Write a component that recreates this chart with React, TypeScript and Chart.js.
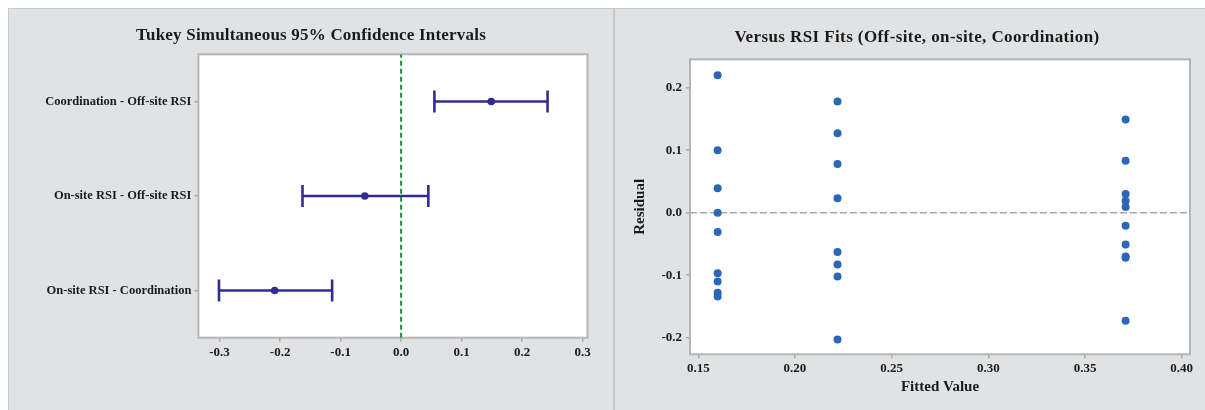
import React, { useEffect, useRef } from "react";
import { Chart, registerables } from "chart.js";

Chart.register(...registerables);

const FONT_FAMILY = '"Liberation Serif", "Times New Roman", serif';
const TEXT_COLOR = "#1a1a1a";
const FRAME_COLOR = "#b5b5b5";
const TICK_COLOR = "#a9a9a9";

// ---- Left panel: Tukey simultaneous 95% confidence intervals ----
const leftTitle = "Tukey Simultaneous 95% Confidence Intervals";
const comparisons = [
  "Coordination - Off-site RSI",
  "On-site RSI - Off-site RSI",
  "On-site RSI - Coordination",
];
const diffCenter = [0.149, -0.06, -0.209];
const diffLower = [0.055, -0.163, -0.301];
const diffUpper = [0.242, 0.045, -0.114];
const diffTicks = [-0.3, -0.2, -0.1, 0.0, 0.1, 0.2, 0.3];
const diffMin = -0.335;
const diffMax = 0.308;

// ---- Right panel: residuals versus fits ----
const rightTitle = "Versus RSI Fits (Off-site, on-site, Coordination)";
const fitOnSite = 0.16;
const fitOffSite = 0.222;
const fitCoordination = 0.371;
const residOnSite = [0.22, 0.1, 0.039, 0.0, -0.031, -0.097, -0.11, -0.128, -0.134];
const residOffSite = [0.178, 0.127, 0.078, 0.023, -0.063, -0.083, -0.102, -0.203];
const residCoordination = [0.149, 0.083, 0.03, 0.019, 0.009, -0.021, -0.051, -0.07, -0.072, -0.173];
const fitTicks = [0.15, 0.2, 0.25, 0.3, 0.35, 0.4];
const residTicks = [-0.2, -0.1, 0.0, 0.1, 0.2];
const fitMin = 0.1457;
const fitMax = 0.4043;
const residMin = -0.2266;
const residMax = 0.2454;

const framePlugin = {
  id: "frame",
  beforeDraw(chart: any) {
    const { ctx, chartArea: a } = chart;
    ctx.save();
    ctx.fillStyle = "#ffffff";
    ctx.fillRect(a.left, a.top, a.right - a.left, a.bottom - a.top);
    ctx.restore();
  },
  beforeDatasetsDraw(chart: any) {
    const { ctx, chartArea: a } = chart;
    ctx.save();
    ctx.strokeStyle = FRAME_COLOR;
    ctx.lineWidth = 2;
    ctx.strokeRect(a.left, a.top, a.right - a.left, a.bottom - a.top);
    ctx.restore();
  },
  afterDraw(chart: any, _args: any, opts: any) {
    const { ctx } = chart;
    ctx.save();
    ctx.fillStyle = TEXT_COLOR;
    ctx.font = `bold ${opts.size}px ${FONT_FAMILY}`;
    try {
      (ctx as any).letterSpacing = `${opts.spacing}px`;
    } catch (e) {}
    ctx.textAlign = "center";
    ctx.textBaseline = "middle";
    ctx.fillText(opts.text, opts.x, opts.y);
    ctx.restore();
  },
};

const tickFont = { family: FONT_FAMILY, size: 13, weight: "bold" as const };
const categoryFont = { family: FONT_FAMILY, size: 12.5, weight: "bold" as const };
const gridOpts = {
  display: true,
  drawOnChartArea: false,
  drawTicks: true,
  tickLength: 4,
  color: TICK_COLOR,
  lineWidth: 1.5,
};

function buildLeft(canvas: HTMLCanvasElement) {
  const navy = "#312d8c";
  const n = comparisons.length;
  const intervalSets = comparisons.map((_, i) => ({
    type: "line" as const,
    data: [
      { x: diffLower[i], y: n - i },
      { x: diffUpper[i], y: n - i },
    ],
    borderColor: navy,
    borderWidth: 2.6,
    pointStyle: "line" as const,
    rotation: 90,
    pointRadius: 11,
    pointBorderWidth: 2.6,
    pointBorderColor: navy,
    pointBackgroundColor: navy,
    showLine: true,
    clip: false as any,
  }));
  return new Chart(canvas, {
    type: "scatter",
    data: {
      datasets: [
        {
          type: "line",
          data: [
            { x: 0, y: 0.5 },
            { x: 0, y: n + 0.5 },
          ],
          borderColor: "#1f8a34",
          borderWidth: 2,
          borderDash: [5, 3],
          pointRadius: 0,
          showLine: true,
        },
        {
          type: "scatter",
          data: diffCenter.map((v, i) => ({ x: v, y: n - i })),
          backgroundColor: navy,
          borderColor: navy,
          pointRadius: 3.8,
          borderWidth: 0,
        },
        ...intervalSets,
      ] as any,
    },
    options: {
      animation: false,
      responsive: false,
      events: [],
      layout: { padding: { left: 0, top: 46.3, right: 25.5, bottom: 32.3 } },
      plugins: {
        legend: { display: false },
        tooltip: { enabled: false },
        frame: { text: leftTitle, x: 303, y: 28, size: 17, spacing: 0.2 },
      } as any,
      scales: {
        x: {
          type: "linear",
          min: diffMin,
          max: diffMax,
          afterBuildTicks: (s: any) => {
            s.ticks = diffTicks.map((v) => ({ value: v }));
          },
          afterFit: (s: any) => {
            s.height = 40;
          },
          ticks: {
            autoSkip: false,
            maxRotation: 0,
            padding: 3,
            color: TEXT_COLOR,
            font: tickFont,
            callback: (v: any) => Number(v).toFixed(1),
          },
          grid: gridOpts,
          border: { display: false },
        },
        y: {
          type: "linear",
          min: 0.5,
          max: n + 0.5,
          afterBuildTicks: (s: any) => {
            s.ticks = comparisons.map((_, i) => ({ value: n - i })).reverse();
          },
          afterFit: (s: any) => {
            s.width = 190.4;
          },
          ticks: {
            autoSkip: false,
            padding: 3,
            color: TEXT_COLOR,
            font: categoryFont,
            callback: (v: any) => comparisons[n - Number(v)],
          },
          grid: gridOpts,
          border: { display: false },
        },
      },
    } as any,
    plugins: [framePlugin],
  });
}

function buildRight(canvas: HTMLCanvasElement) {
  const blue = "#2a67b9";
  const groups = [
    { fit: fitOnSite, res: residOnSite },
    { fit: fitOffSite, res: residOffSite },
    { fit: fitCoordination, res: residCoordination },
  ];
  const points = groups.flatMap((g) => g.res.map((r) => ({ x: g.fit, y: r })));
  return new Chart(canvas, {
    type: "scatter",
    data: {
      datasets: [
        {
          type: "scatter",
          data: points,
          backgroundColor: blue,
          borderColor: blue,
          pointRadius: 4,
          borderWidth: 0,
        },
        {
          type: "line",
          data: [
            { x: fitMin, y: 0 },
            { x: fitMax, y: 0 },
          ],
          borderColor: "#a8a8a8",
          borderWidth: 1.5,
          borderDash: [7, 3],
          pointRadius: 0,
          showLine: true,
        },
      ] as any,
    },
    options: {
      animation: false,
      responsive: false,
      events: [],
      layout: { padding: { left: 0, top: 51.3, right: 15, bottom: 10.7 } },
      plugins: {
        legend: { display: false },
        tooltip: { enabled: false },
        frame: { text: rightTitle, x: 302, y: 29.7, size: 17, spacing: 0.4 },
      } as any,
      scales: {
        x: {
          type: "linear",
          min: fitMin,
          max: fitMax,
          afterBuildTicks: (s: any) => {
            s.ticks = fitTicks.map((v) => ({ value: v }));
          },
          afterFit: (s: any) => {
            s.height = 45;
          },
          ticks: {
            autoSkip: false,
            maxRotation: 0,
            padding: 3,
            color: TEXT_COLOR,
            font: tickFont,
            callback: (v: any) => Number(v).toFixed(2),
          },
          title: {
            display: true,
            text: "Fitted Value",
            color: TEXT_COLOR,
            font: { family: FONT_FAMILY, size: 15, weight: "bold" },
            padding: { top: 0, bottom: 3 },
          },
          grid: gridOpts,
          border: { display: false },
        },
        y: {
          type: "linear",
          min: residMin,
          max: residMax,
          afterBuildTicks: (s: any) => {
            s.ticks = residTicks.map((v) => ({ value: v }));
          },
          afterFit: (s: any) => {
            s.width = 75;
          },
          ticks: {
            autoSkip: false,
            padding: 4,
            color: TEXT_COLOR,
            font: tickFont,
            callback: (v: any) => Number(v).toFixed(1),
          },
          title: {
            display: true,
            text: "Residual",
            color: TEXT_COLOR,
            font: { family: FONT_FAMILY, size: 15, weight: "bold" },
            padding: { top: 16, bottom: 0 },
          },
          grid: gridOpts,
          border: { display: false },
        },
      },
    } as any,
    plugins: [framePlugin],
  });
}

export default function App() {
  const leftRef = useRef<HTMLCanvasElement | null>(null);
  const rightRef = useRef<HTMLCanvasElement | null>(null);

  useEffect(() => {
    const charts: Chart[] = [];
    if (leftRef.current) charts.push(buildLeft(leftRef.current));
    if (rightRef.current) charts.push(buildRight(rightRef.current));
    return () => charts.forEach((c) => c.destroy());
  }, []);

  return (
    <div
      style={{
        position: "fixed",
        left: 8,
        top: 8,
        width: 1197,
        height: 402,
        background: "#e1e2e4",
        overflow: "hidden",
      }}
    >
      <canvas
        ref={leftRef}
        width={605}
        height={402}
        style={{ position: "absolute", left: 0, top: 0, width: 605, height: 402, display: "block" }}
      />
      <canvas
        ref={rightRef}
        width={590}
        height={402}
        style={{ position: "absolute", left: 607, top: 0, width: 590, height: 402, display: "block" }}
      />
      <div style={{ position: "absolute", left: 0, top: 0, width: 1197, height: 1, background: "#cbcbcb" }} />
      <div style={{ position: "absolute", left: 0, top: 0, width: 1, height: 402, background: "#cbcbcb" }} />
      <div style={{ position: "absolute", left: 605, top: 0, width: 2, height: 402, background: "#c6c6c6" }} />
    </div>
  );
}
